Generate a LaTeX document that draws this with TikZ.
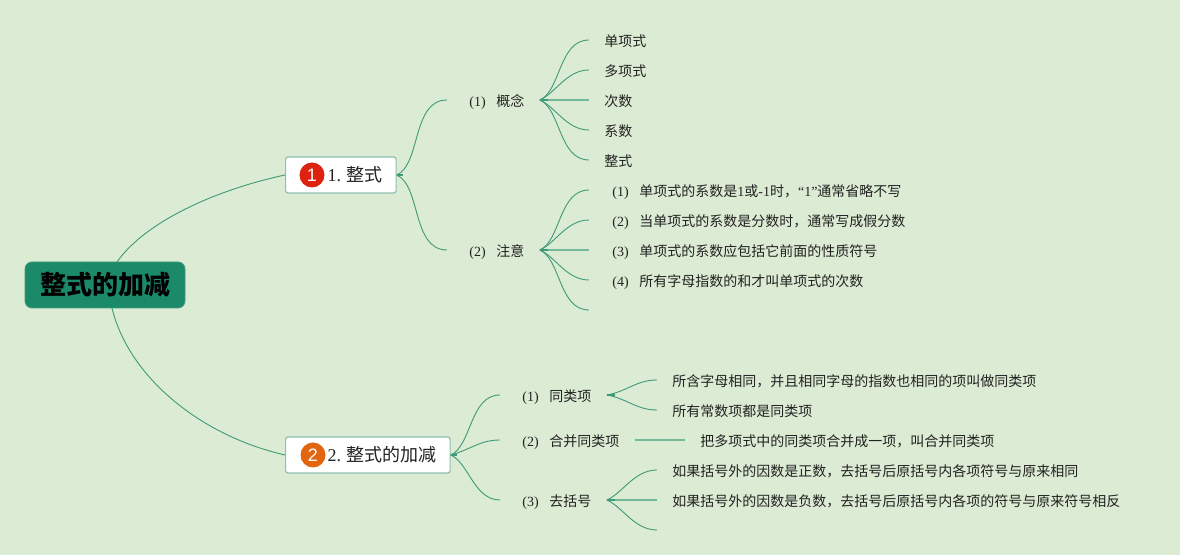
\documentclass[tikz,border=0pt]{standalone}
\usepackage{fontspec}
\setmainfont{Noto Sans CJK SC}
\newfontfamily\latinfont{Liberation Serif}
\newfontfamily\badgefont{Liberation Sans}
\usetikzlibrary{positioning}

\definecolor{paper}{HTML}{DCEBD3}
\definecolor{rootgreen}{HTML}{1B8A68}
\definecolor{linkgreen}{HTML}{3E9A78}
\definecolor{palegreen}{HTML}{74B999}
\definecolor{boxedge}{HTML}{8FBFB0}
\definecolor{inkblack}{HTML}{222222}
\definecolor{badgered}{HTML}{DD2210}
\definecolor{badgeorange}{HTML}{E2650F}

\newcommand{\lat}[1]{{\latinfont #1}}
\newcommand{\numlabel}[1]{\hspace{4pt}\makebox[13.5pt][l]{\lat{(#1)}}}
\newcommand{\headlabel}[2]{\hspace{3.5pt}\makebox[13.5pt][l]{\lat{(#1)}}#2\hspace{-0.5pt}}

\tikzset{
  rootbox/.style={draw=rootgreen!70!boxedge,line width=0.4pt,fill=rootgreen,rounded corners=3.5pt,minimum width=80pt,minimum height=23pt,inner sep=0pt,text=black,font=\fontsize{13}{15}\bfseries},
  topicbox/.style={draw=boxedge,line width=0.6pt,fill=white,rounded corners=1.2pt,minimum height=18pt,inner sep=0pt,anchor=west,align=left,text=inkblack,font=\fontsize{9}{10}\selectfont},
  badge/.style={circle,minimum size=12.5pt,inner sep=0pt,text=white,font=\badgefont\fontsize{9}{10}\selectfont},
  item/.style={anchor=west,inner xsep=7.5pt,inner ysep=0pt,text height=8pt,text depth=1.68pt,text=inkblack,font=\fontsize{7}{9}\selectfont},
  link/.style={draw=linkgreen,line width=0.45pt},
  stub/.style={draw=linkgreen,line width=1.3pt},
  straight/.style={draw=palegreen,line width=1.1pt},
  rise/.style={out=23,in=180,out looseness=0.75,in looseness=1},
  fall/.style={out=-23,in=180,out looseness=0.75,in looseness=1}
}

\begin{document}
\begin{tikzpicture}[x=0.5pt,y=-0.5pt]

\fill[paper] (0,0) rectangle (1180,555);
\useasboundingbox (0,0) rectangle (1180,555);

% main topics
\node[rootbox] (root) at (105,285) {整式的加减};
\node[topicbox,minimum width=55pt] (zhengshi) at (285,175) {\hspace{21pt}\lat{1.}\hspace{2.5pt}整式\hspace{7pt}};
\node[topicbox,minimum width=82pt] (jiajian) at (285,455) {\hspace{21pt}\lat{2.}\hspace{2.5pt}整式的加减\hspace{7pt}};
\node[badge,fill=badgered] (badgeA) at (312,175) {1};
\node[badge,fill=badgeorange] (badgeB) at (313,455) {2};

\draw[link] (117,262) .. controls (145,222) and (215,190) .. (zhengshi.west);
\draw[link] (112,308) .. controls (128,375) and (198,435) .. (jiajian.west);

% first branch
\node[item] (gainian) at (447,100) {\headlabel{1}{概念}};
\node[item] (zhuyi) at (447,250) {\headlabel{2}{注意}};
\draw[stub] (zhengshi.east) -- ++(6,0);
\draw[link] (zhengshi.east) to[rise] (gainian.west);
\draw[link] (zhengshi.east) to[fall] (zhuyi.west);

\node[item] (danxiang) at (589,40) {单项式};
\node[item] (duoxiang) at (589,70) {多项式};
\node[item] (cishu) at (589,100) {次数};
\node[item] (xishu) at (589,130) {系数};
\node[item] (zhengshiB) at (589,160) {整式};

\draw[straight] (gainian.east) -- (cishu.west);
\draw[stub] (gainian.east) -- ++(8,0);
\foreach \leaf/\shape in {danxiang/rise,duoxiang/rise,xishu/fall,zhengshiB/fall}
  \draw[link] (gainian.east) to[\shape] (\leaf.west);

\node[item] (noteA) at (589,190) {\numlabel{1}单项式的系数是\lat{1}或\lat{-1}时，\lat{“1”}通常省略不写};
\node[item] (noteB) at (589,220) {\numlabel{2}当单项式的系数是分数时，通常写成假分数};
\node[item] (noteC) at (589,250) {\numlabel{3}单项式的系数应包括它前面的性质符号};
\node[item] (noteD) at (589,280) {\numlabel{4}所有字母指数的和才叫单项式的次数};
\coordinate (noteE) at (589,310);

\draw[straight] (zhuyi.east) -- (noteC.west);
\draw[stub] (zhuyi.east) -- ++(8,0);
\foreach \leaf/\shape in {noteA.west/rise,noteB.west/rise,noteD.west/fall,noteE/fall}
  \draw[link] (zhuyi.east) to[\shape] (\leaf);

% second branch
\node[item] (tonglei) at (500,395) {\headlabel{1}{同类项}};
\node[item] (hebing) at (500,440) {\headlabel{2}{合并同类项}};
\node[item] (quhao) at (500,500) {\headlabel{3}{去括号}};
\draw[stub] (jiajian.east) -- ++(6,0);
\draw[link] (jiajian.east) to[rise] (tonglei.west);
\draw[link] (jiajian.east) to[out=15,in=180] (hebing.west);
\draw[link] (jiajian.east) to[fall] (quhao.west);

\node[item] (suohan) at (657,380) {所含字母相同，并且相同字母的指数也相同的项叫做同类项};
\node[item] (changshu) at (657,410) {所有常数项都是同类项};
\draw[stub] (tonglei.east) -- ++(8,0);
\draw[link] (tonglei.east) to[out=10,in=180] (suohan.west);
\draw[link] (tonglei.east) to[out=-10,in=180] (changshu.west);

\node[item] (baduo) at (685,440) {把多项式中的同类项合并成一项，叫合并同类项};
\draw[straight] (hebing.east) -- (baduo.west);

\node[item] (zhengshu) at (657,470) {如果括号外的因数是正数，去括号后原括号内各项符号与原来相同};
\node[item] (fushu) at (657,500) {如果括号外的因数是负数，去括号后原括号内各项的符号与原来符号相反};
\coordinate (kong) at (657,530);
\draw[straight] (quhao.east) -- (fushu.west);
\draw[stub] (quhao.east) -- ++(8,0);
\draw[link] (quhao.east) to[rise] (zhengshu.west);
\draw[link] (quhao.east) to[fall] (kong);

\end{tikzpicture}
\end{document}
